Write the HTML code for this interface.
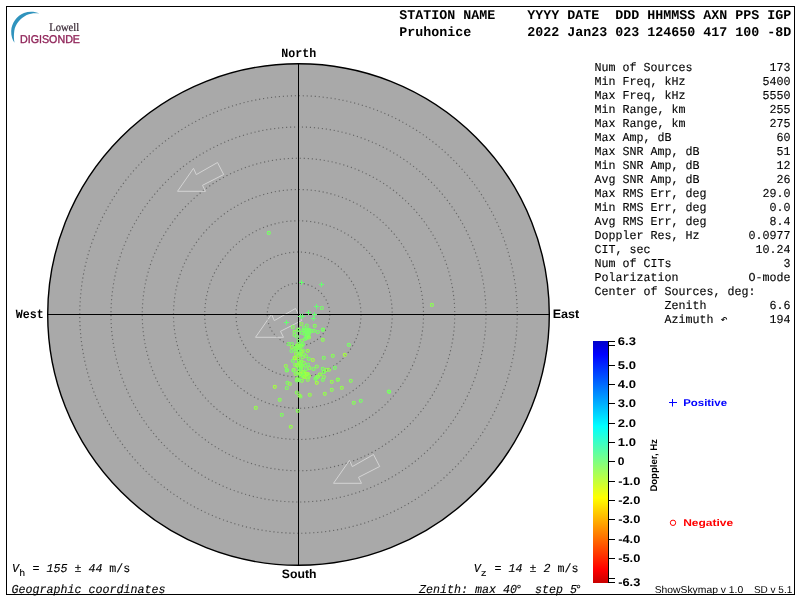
<!DOCTYPE html>
<html><head><meta charset="utf-8"><title>Skymap</title>
<style>
html,body{margin:0;padding:0;background:#fff;}
body{width:800px;height:600px;overflow:hidden;font-family:"Liberation Mono",monospace;}
svg{display:block;will-change:transform;}
text{white-space:pre;text-rendering:geometricPrecision;}
</style></head><body>
<svg width="800" height="600" viewBox="0 0 800 600">
<defs><linearGradient id="jet" x1="0" y1="0" x2="0" y2="1">
<stop offset="0" stop-color="#0000c8"/><stop offset="0.055" stop-color="#0000ff"/>
<stop offset="0.352" stop-color="#00ffff"/><stop offset="0.5" stop-color="#80ff80"/><stop offset="0.648" stop-color="#ffff00"/>
<stop offset="0.944" stop-color="#ff0000"/><stop offset="1" stop-color="#c80000"/>
</linearGradient></defs>
<rect x="6.5" y="6.5" width="788" height="588" fill="none" stroke="#000" stroke-width="1"/>
<circle cx="298.5" cy="314.5" r="250.8" fill="#a9a9a9" stroke="#000" stroke-width="1.4"/>
<circle cx="298.5" cy="314.5" r="31.25" fill="none" stroke="#666" stroke-width="1.15" stroke-dasharray="1.15 2.857"/>
<circle cx="298.5" cy="314.5" r="62.50" fill="none" stroke="#666" stroke-width="1.15" stroke-dasharray="1.15 2.857"/>
<circle cx="298.5" cy="314.5" r="93.75" fill="none" stroke="#666" stroke-width="1.15" stroke-dasharray="1.15 2.857"/>
<circle cx="298.5" cy="314.5" r="125.00" fill="none" stroke="#666" stroke-width="1.15" stroke-dasharray="1.15 2.857"/>
<circle cx="298.5" cy="314.5" r="156.25" fill="none" stroke="#666" stroke-width="1.15" stroke-dasharray="1.15 2.857"/>
<circle cx="298.5" cy="314.5" r="187.50" fill="none" stroke="#666" stroke-width="1.15" stroke-dasharray="1.15 2.844"/>
<circle cx="298.5" cy="314.5" r="218.75" fill="none" stroke="#666" stroke-width="1.15" stroke-dasharray="1.15 2.845"/>
<polygon points="177.5,191.3 193.5,168.3 196.3,174.6 217.5,162.5 223.7,174.5 202.5,185.3 205.5,191.3" fill="none" stroke="#d4d4d4" stroke-width="1"/>
<polygon points="255.5,337.3 271.5,314.3 274.3,320.6 295.5,308.5 301.7,320.5 280.5,331.3 283.5,337.3" fill="none" stroke="#d4d4d4" stroke-width="1"/>
<polygon points="333.5,483.3 349.5,460.3 352.3,466.6 373.5,454.5 379.7,466.5 358.5,477.3 361.5,483.3" fill="none" stroke="#d4d4d4" stroke-width="1"/>
<rect x="298" y="64" width="1" height="501" fill="#000"/>
<rect x="48" y="314" width="501" height="1" fill="#000"/>
<path d="M305 328.5 Q308 326.5 311 328.5 Q312.5 331 311 334 Q310 337 308 339.5 Q306 340.5 305 338 Q303.5 333 305 328.5Z" fill="#7cfc68"/>
<circle cx="321.8" cy="308.0" r="1.5" fill="none" stroke="#78ff66" stroke-width="1.15"/>
<circle cx="301.5" cy="324.0" r="1.5" fill="none" stroke="#8cff55" stroke-width="1.15"/>
<circle cx="292.8" cy="327.0" r="1.5" fill="none" stroke="#84ff5a" stroke-width="1.15"/>
<circle cx="306.8" cy="325.5" r="1.5" fill="none" stroke="#7cfc64" stroke-width="1.15"/>
<circle cx="314.8" cy="325.8" r="1.5" fill="none" stroke="#84ff5a" stroke-width="1.15"/>
<circle cx="323.0" cy="329.5" r="1.5" fill="none" stroke="#7cfc64" stroke-width="1.15"/>
<circle cx="298.5" cy="329.5" r="1.5" fill="none" stroke="#8cff55" stroke-width="1.15"/>
<circle cx="298.5" cy="330.0" r="1.5" fill="none" stroke="#78ff66" stroke-width="1.15"/>
<circle cx="294.5" cy="331.8" r="1.5" fill="none" stroke="#84ff5a" stroke-width="1.15"/>
<circle cx="294.5" cy="335.0" r="1.5" fill="none" stroke="#80ff5e" stroke-width="1.15"/>
<circle cx="297.0" cy="336.5" r="1.5" fill="none" stroke="#78ff66" stroke-width="1.15"/>
<circle cx="301.8" cy="332.8" r="1.5" fill="none" stroke="#78ff66" stroke-width="1.15"/>
<circle cx="303.5" cy="330.0" r="1.5" fill="none" stroke="#78ff66" stroke-width="1.15"/>
<circle cx="314.0" cy="330.8" r="1.5" fill="none" stroke="#7cfc64" stroke-width="1.15"/>
<circle cx="317.8" cy="332.0" r="1.5" fill="none" stroke="#78ff66" stroke-width="1.15"/>
<circle cx="322.8" cy="329.8" r="1.5" fill="none" stroke="#78ff66" stroke-width="1.15"/>
<circle cx="322.8" cy="339.8" r="1.5" fill="none" stroke="#8cff55" stroke-width="1.15"/>
<circle cx="308.5" cy="336.5" r="1.5" fill="none" stroke="#78ff66" stroke-width="1.15"/>
<circle cx="305.0" cy="339.0" r="1.5" fill="none" stroke="#78ff66" stroke-width="1.15"/>
<circle cx="302.0" cy="340.5" r="1.5" fill="none" stroke="#84ff5a" stroke-width="1.15"/>
<circle cx="298.5" cy="341.0" r="1.5" fill="none" stroke="#78ff66" stroke-width="1.15"/>
<circle cx="288.5" cy="344.0" r="1.5" fill="none" stroke="#7cfc64" stroke-width="1.15"/>
<circle cx="292.0" cy="344.0" r="1.5" fill="none" stroke="#78ff66" stroke-width="1.15"/>
<circle cx="291.8" cy="347.0" r="1.5" fill="none" stroke="#94ff4c" stroke-width="1.15"/>
<circle cx="291.5" cy="351.0" r="1.5" fill="none" stroke="#78ff66" stroke-width="1.15"/>
<circle cx="297.5" cy="346.0" r="1.5" fill="none" stroke="#7dff60" stroke-width="1.15"/>
<circle cx="301.0" cy="344.5" r="1.5" fill="none" stroke="#78ff66" stroke-width="1.15"/>
<circle cx="303.0" cy="344.0" r="1.5" fill="none" stroke="#78ff66" stroke-width="1.15"/>
<circle cx="300.0" cy="347.5" r="1.5" fill="none" stroke="#94ff4c" stroke-width="1.15"/>
<circle cx="295.5" cy="351.0" r="1.5" fill="none" stroke="#7dff60" stroke-width="1.15"/>
<circle cx="299.0" cy="351.0" r="1.5" fill="none" stroke="#86ff58" stroke-width="1.15"/>
<circle cx="303.0" cy="350.5" r="1.5" fill="none" stroke="#7dff60" stroke-width="1.15"/>
<circle cx="307.8" cy="350.8" r="1.5" fill="none" stroke="#94ff4c" stroke-width="1.15"/>
<circle cx="296.0" cy="354.0" r="1.5" fill="none" stroke="#94ff4c" stroke-width="1.15"/>
<circle cx="300.0" cy="354.0" r="1.5" fill="none" stroke="#86ff58" stroke-width="1.15"/>
<circle cx="304.0" cy="354.5" r="1.5" fill="none" stroke="#86ff58" stroke-width="1.15"/>
<circle cx="306.0" cy="356.0" r="1.5" fill="none" stroke="#86ff58" stroke-width="1.15"/>
<circle cx="294.5" cy="357.8" r="1.5" fill="none" stroke="#86ff58" stroke-width="1.15"/>
<circle cx="297.5" cy="358.5" r="1.5" fill="none" stroke="#a4ff40" stroke-width="1.15"/>
<circle cx="308.8" cy="358.8" r="1.5" fill="none" stroke="#7dff60" stroke-width="1.15"/>
<circle cx="312.8" cy="360.0" r="1.5" fill="none" stroke="#a4ff40" stroke-width="1.15"/>
<circle cx="292.8" cy="360.8" r="1.5" fill="none" stroke="#78ff66" stroke-width="1.15"/>
<circle cx="299.0" cy="361.0" r="1.5" fill="none" stroke="#78ff66" stroke-width="1.15"/>
<circle cx="301.0" cy="362.5" r="1.5" fill="none" stroke="#7dff60" stroke-width="1.15"/>
<circle cx="304.0" cy="363.0" r="1.5" fill="none" stroke="#8cff55" stroke-width="1.15"/>
<circle cx="323.8" cy="357.8" r="1.5" fill="none" stroke="#7dff60" stroke-width="1.15"/>
<circle cx="332.8" cy="355.8" r="1.5" fill="none" stroke="#86ff58" stroke-width="1.15"/>
<circle cx="344.8" cy="354.8" r="1.5" fill="none" stroke="#a4ff40" stroke-width="1.15"/>
<circle cx="348.8" cy="344.8" r="1.5" fill="none" stroke="#78ff66" stroke-width="1.15"/>
<circle cx="285.8" cy="366.0" r="1.5" fill="none" stroke="#94ff4c" stroke-width="1.15"/>
<circle cx="286.8" cy="369.7" r="1.5" fill="none" stroke="#78ff66" stroke-width="1.15"/>
<circle cx="293.8" cy="369.7" r="1.5" fill="none" stroke="#a4ff40" stroke-width="1.15"/>
<circle cx="298.0" cy="366.0" r="1.5" fill="none" stroke="#86ff58" stroke-width="1.15"/>
<circle cx="302.0" cy="366.0" r="1.5" fill="none" stroke="#78ff66" stroke-width="1.15"/>
<circle cx="305.5" cy="365.5" r="1.5" fill="none" stroke="#86ff58" stroke-width="1.15"/>
<circle cx="308.0" cy="364.5" r="1.5" fill="none" stroke="#78ff66" stroke-width="1.15"/>
<circle cx="309.5" cy="368.0" r="1.5" fill="none" stroke="#8cff55" stroke-width="1.15"/>
<circle cx="306.0" cy="369.0" r="1.5" fill="none" stroke="#7dff60" stroke-width="1.15"/>
<circle cx="301.0" cy="369.0" r="1.5" fill="none" stroke="#8cff55" stroke-width="1.15"/>
<circle cx="313.5" cy="369.0" r="1.5" fill="none" stroke="#7dff60" stroke-width="1.15"/>
<circle cx="316.8" cy="366.5" r="1.5" fill="none" stroke="#86ff58" stroke-width="1.15"/>
<circle cx="322.8" cy="368.8" r="1.5" fill="none" stroke="#7dff60" stroke-width="1.15"/>
<circle cx="326.5" cy="369.7" r="1.5" fill="none" stroke="#94ff4c" stroke-width="1.15"/>
<circle cx="329.0" cy="369.7" r="1.5" fill="none" stroke="#94ff4c" stroke-width="1.15"/>
<circle cx="334.8" cy="367.8" r="1.5" fill="none" stroke="#78ff66" stroke-width="1.15"/>
<circle cx="323.8" cy="372.0" r="1.5" fill="none" stroke="#94ff4c" stroke-width="1.15"/>
<circle cx="319.8" cy="374.5" r="1.5" fill="none" stroke="#86ff58" stroke-width="1.15"/>
<circle cx="316.8" cy="377.0" r="1.5" fill="none" stroke="#86ff58" stroke-width="1.15"/>
<circle cx="323.8" cy="377.0" r="1.5" fill="none" stroke="#8cff55" stroke-width="1.15"/>
<circle cx="315.5" cy="378.5" r="1.5" fill="none" stroke="#78ff66" stroke-width="1.15"/>
<circle cx="308.0" cy="374.5" r="1.5" fill="none" stroke="#7dff60" stroke-width="1.15"/>
<circle cx="304.0" cy="373.5" r="1.5" fill="none" stroke="#8cff55" stroke-width="1.15"/>
<circle cx="302.0" cy="374.0" r="1.5" fill="none" stroke="#94ff4c" stroke-width="1.15"/>
<circle cx="295.5" cy="374.0" r="1.5" fill="none" stroke="#94ff4c" stroke-width="1.15"/>
<circle cx="298.5" cy="372.0" r="1.5" fill="none" stroke="#a4ff40" stroke-width="1.15"/>
<circle cx="308.0" cy="377.5" r="1.5" fill="none" stroke="#8cff55" stroke-width="1.15"/>
<circle cx="297.0" cy="379.0" r="1.5" fill="none" stroke="#8cff55" stroke-width="1.15"/>
<circle cx="338.0" cy="379.5" r="1.5" fill="none" stroke="#8cff55" stroke-width="1.15"/>
<circle cx="286.8" cy="370.5" r="1.5" fill="none" stroke="#7dff60" stroke-width="1.15"/>
<circle cx="293.5" cy="370.5" r="1.5" fill="none" stroke="#78ff66" stroke-width="1.15"/>
<circle cx="303.5" cy="373.5" r="1.5" fill="none" stroke="#78ff66" stroke-width="1.15"/>
<circle cx="304.0" cy="376.0" r="1.5" fill="none" stroke="#94ff4c" stroke-width="1.15"/>
<circle cx="309.0" cy="376.0" r="1.5" fill="none" stroke="#94ff4c" stroke-width="1.15"/>
<circle cx="307.8" cy="379.8" r="1.5" fill="none" stroke="#8cff55" stroke-width="1.15"/>
<circle cx="301.8" cy="380.8" r="1.5" fill="none" stroke="#8cff55" stroke-width="1.15"/>
<circle cx="296.8" cy="380.5" r="1.5" fill="none" stroke="#7dff60" stroke-width="1.15"/>
<circle cx="298.5" cy="379.5" r="1.5" fill="none" stroke="#8cff55" stroke-width="1.15"/>
<circle cx="315.8" cy="378.8" r="1.5" fill="none" stroke="#78ff66" stroke-width="1.15"/>
<circle cx="318.0" cy="376.8" r="1.5" fill="none" stroke="#86ff58" stroke-width="1.15"/>
<circle cx="320.0" cy="374.5" r="1.5" fill="none" stroke="#94ff4c" stroke-width="1.15"/>
<circle cx="323.8" cy="371.8" r="1.5" fill="none" stroke="#7dff60" stroke-width="1.15"/>
<circle cx="322.8" cy="379.8" r="1.5" fill="none" stroke="#7dff60" stroke-width="1.15"/>
<circle cx="316.8" cy="382.8" r="1.5" fill="none" stroke="#a4ff40" stroke-width="1.15"/>
<circle cx="287.5" cy="382.8" r="1.5" fill="none" stroke="#7dff60" stroke-width="1.15"/>
<circle cx="289.8" cy="384.0" r="1.5" fill="none" stroke="#94ff4c" stroke-width="1.15"/>
<circle cx="286.8" cy="388.0" r="1.5" fill="none" stroke="#7dff60" stroke-width="1.15"/>
<circle cx="274.8" cy="386.8" r="1.5" fill="none" stroke="#a4ff40" stroke-width="1.15"/>
<circle cx="296.8" cy="392.5" r="1.5" fill="none" stroke="#86ff58" stroke-width="1.15"/>
<circle cx="300.5" cy="396.5" r="1.5" fill="none" stroke="#7dff60" stroke-width="1.15"/>
<circle cx="299.5" cy="395.5" r="1.5" fill="none" stroke="#94ff4c" stroke-width="1.15"/>
<circle cx="309.8" cy="394.8" r="1.5" fill="none" stroke="#94ff4c" stroke-width="1.15"/>
<circle cx="324.8" cy="393.8" r="1.5" fill="none" stroke="#94ff4c" stroke-width="1.15"/>
<circle cx="279.8" cy="399.8" r="1.5" fill="none" stroke="#86ff58" stroke-width="1.15"/>
<circle cx="255.8" cy="407.8" r="1.5" fill="none" stroke="#94ff4c" stroke-width="1.15"/>
<circle cx="297.8" cy="410.8" r="1.5" fill="none" stroke="#86ff58" stroke-width="1.15"/>
<circle cx="281.8" cy="414.8" r="1.5" fill="none" stroke="#7dff60" stroke-width="1.15"/>
<circle cx="290.8" cy="426.8" r="1.5" fill="none" stroke="#94ff4c" stroke-width="1.15"/>
<circle cx="331.8" cy="381.8" r="1.5" fill="none" stroke="#94ff4c" stroke-width="1.15"/>
<circle cx="337.8" cy="379.8" r="1.5" fill="none" stroke="#86ff58" stroke-width="1.15"/>
<circle cx="350.8" cy="380.8" r="1.5" fill="none" stroke="#86ff58" stroke-width="1.15"/>
<circle cx="341.8" cy="387.8" r="1.5" fill="none" stroke="#94ff4c" stroke-width="1.15"/>
<circle cx="331.8" cy="389.8" r="1.5" fill="none" stroke="#8cff55" stroke-width="1.15"/>
<circle cx="388.8" cy="391.5" r="1.5" fill="none" stroke="#7dff60" stroke-width="1.15"/>
<circle cx="389.2" cy="391.8" r="1.5" fill="none" stroke="#78ff66" stroke-width="1.15"/>
<circle cx="360.8" cy="400.8" r="1.5" fill="none" stroke="#78ff66" stroke-width="1.15"/>
<circle cx="353.8" cy="402.8" r="1.5" fill="none" stroke="#86ff58" stroke-width="1.15"/>
<circle cx="268.8" cy="232.9" r="1.5" fill="none" stroke="#78ff66" stroke-width="1.15"/>
<circle cx="431.9" cy="304.9" r="1.5" fill="none" stroke="#8cff55" stroke-width="1.15"/>
<circle cx="298.8" cy="367.7" r="1.5" fill="none" stroke="#78ff66" stroke-width="1.15"/>
<circle cx="300.8" cy="345.8" r="1.5" fill="none" stroke="#a4ff40" stroke-width="1.15"/>
<circle cx="297.1" cy="345.2" r="1.5" fill="none" stroke="#8cff55" stroke-width="1.15"/>
<circle cx="298.9" cy="362.3" r="1.5" fill="none" stroke="#7dff60" stroke-width="1.15"/>
<circle cx="302.2" cy="345.7" r="1.5" fill="none" stroke="#78ff66" stroke-width="1.15"/>
<circle cx="300.1" cy="346.4" r="1.5" fill="none" stroke="#78ff66" stroke-width="1.15"/>
<circle cx="295.2" cy="347.7" r="1.5" fill="none" stroke="#78ff66" stroke-width="1.15"/>
<circle cx="301.7" cy="351.5" r="1.5" fill="none" stroke="#a4ff40" stroke-width="1.15"/>
<circle cx="295.1" cy="364.9" r="1.5" fill="none" stroke="#86ff58" stroke-width="1.15"/>
<circle cx="295.0" cy="358.1" r="1.5" fill="none" stroke="#a4ff40" stroke-width="1.15"/>
<circle cx="300.3" cy="375.6" r="1.5" fill="none" stroke="#7dff60" stroke-width="1.15"/>
<circle cx="299.4" cy="354.0" r="1.5" fill="none" stroke="#a4ff40" stroke-width="1.15"/>
<circle cx="300.3" cy="354.7" r="1.5" fill="none" stroke="#86ff58" stroke-width="1.15"/>
<circle cx="300.5" cy="374.0" r="1.5" fill="none" stroke="#a4ff40" stroke-width="1.15"/>
<circle cx="300.9" cy="367.3" r="1.5" fill="none" stroke="#8cff55" stroke-width="1.15"/>
<circle cx="302.6" cy="357.2" r="1.5" fill="none" stroke="#8cff55" stroke-width="1.15"/>
<circle cx="298.6" cy="345.3" r="1.5" fill="none" stroke="#8cff55" stroke-width="1.15"/>
<circle cx="299.2" cy="350.8" r="1.5" fill="none" stroke="#78ff66" stroke-width="1.15"/>
<circle cx="298.3" cy="354.9" r="1.5" fill="none" stroke="#86ff58" stroke-width="1.15"/>
<circle cx="297.0" cy="365.3" r="1.5" fill="none" stroke="#94ff4c" stroke-width="1.15"/>
<circle cx="297.4" cy="373.2" r="1.5" fill="none" stroke="#7dff60" stroke-width="1.15"/>
<circle cx="300.1" cy="369.6" r="1.5" fill="none" stroke="#78ff66" stroke-width="1.15"/>
<circle cx="299.6" cy="363.0" r="1.5" fill="none" stroke="#94ff4c" stroke-width="1.15"/>
<circle cx="302.9" cy="376.3" r="1.5" fill="none" stroke="#8cff55" stroke-width="1.15"/>
<circle cx="299.2" cy="380.2" r="1.5" fill="none" stroke="#78ff66" stroke-width="1.15"/>
<circle cx="297.4" cy="347.5" r="1.5" fill="none" stroke="#86ff58" stroke-width="1.15"/>
<circle cx="295.7" cy="348.8" r="1.5" fill="none" stroke="#86ff58" stroke-width="1.15"/>
<circle cx="301.7" cy="361.6" r="1.5" fill="none" stroke="#8cff55" stroke-width="1.15"/>
<circle cx="303.2" cy="372.1" r="1.5" fill="none" stroke="#a4ff40" stroke-width="1.15"/>
<circle cx="300.4" cy="364.8" r="1.5" fill="none" stroke="#94ff4c" stroke-width="1.15"/>
<circle cx="307.8" cy="373.7" r="1.5" fill="none" stroke="#8cff55" stroke-width="1.15"/>
<circle cx="304.2" cy="372.3" r="1.5" fill="none" stroke="#86ff58" stroke-width="1.15"/>
<circle cx="303.1" cy="375.8" r="1.5" fill="none" stroke="#7dff60" stroke-width="1.15"/>
<circle cx="304.4" cy="377.2" r="1.5" fill="none" stroke="#a4ff40" stroke-width="1.15"/>
<circle cx="301.6" cy="364.8" r="1.5" fill="none" stroke="#7dff60" stroke-width="1.15"/>
<circle cx="306.7" cy="373.8" r="1.5" fill="none" stroke="#a4ff40" stroke-width="1.15"/>
<circle cx="304.5" cy="330.5" r="1.5" fill="none" stroke="#78ff66" stroke-width="1.15"/>
<circle cx="304.5" cy="334.0" r="1.5" fill="none" stroke="#78ff66" stroke-width="1.15"/>
<circle cx="311.5" cy="331.0" r="1.5" fill="none" stroke="#78ff66" stroke-width="1.15"/>
<circle cx="306.0" cy="338.0" r="1.5" fill="none" stroke="#78ff66" stroke-width="1.15"/>
<circle cx="309.0" cy="337.5" r="1.5" fill="none" stroke="#8cff55" stroke-width="1.15"/>
<circle cx="304.0" cy="328.0" r="1.5" fill="none" stroke="#78ff66" stroke-width="1.15"/>
<path d="M299.0 282.5h5M301.5 280.0v5" stroke="#66ff70" stroke-width="1" fill="none"/>
<path d="M319.0 284.5h5M321.5 282.0v5" stroke="#66ff70" stroke-width="1" fill="none"/>
<path d="M314.0 306.5h5M316.5 304.0v5" stroke="#66ff70" stroke-width="1" fill="none"/>
<path d="M306.0 312.5h5M308.5 310.0v5" stroke="#66ff70" stroke-width="1" fill="none"/>
<path d="M312.0 314.5h5M314.5 312.0v5" stroke="#66ff70" stroke-width="1" fill="none"/>
<path d="M311.0 318.5h5M313.5 316.0v5" stroke="#66ff70" stroke-width="1" fill="none"/>
<path d="M300.0 316.5h5M302.5 314.0v5" stroke="#66ff70" stroke-width="1" fill="none"/>
<path d="M298.0 316.5h5M300.5 314.0v5" stroke="#66ff70" stroke-width="1" fill="none"/>
<path d="M284.0 322.5h5M286.5 320.0v5" stroke="#66ff70" stroke-width="1" fill="none"/>
<path d="M39.3 13.5 C35 11.5 29 11.2 24 13 C17 15.8 11.5 23 11.2 31 C11 36 12.5 40 14.5 42.7 C13.8 39 13.7 35 14.3 30.7 C15.5 24 20 18.5 26.7 15 C31 13 35.5 12.8 39.3 13.5Z" fill="#2f93bd"/>
<text x="49.20" y="31" fill="#33222f" style="font-family:&quot;Liberation Serif&quot;,serif;font-size:11.5px;" textLength="29.99" lengthAdjust="spacingAndGlyphs" stroke="#33222f" stroke-width="0.2" xml:space="preserve">Lowell</text>
<text x="20.00" y="43.3" fill="#8f2358" style="font-family:&quot;Liberation Sans&quot;,sans-serif;font-size:11.3px;" textLength="60.00" lengthAdjust="spacingAndGlyphs" stroke="#8f2358" stroke-width="0.35" xml:space="preserve">DIGISONDE</text>
<text x="399.30" y="19" fill="#000" style="font-family:&quot;Liberation Mono&quot;,monospace;font-size:13.33px;font-weight:bold;" textLength="392.00" lengthAdjust="spacingAndGlyphs" xml:space="preserve">STATION NAME    YYYY DATE  DDD HHMMSS AXN PPS IGP</text>
<text x="399.30" y="36" fill="#000" style="font-family:&quot;Liberation Mono&quot;,monospace;font-size:13.33px;font-weight:bold;" textLength="392.00" lengthAdjust="spacingAndGlyphs" xml:space="preserve">Pruhonice       2022 Jan23 023 124650 417 100 -8D</text>
<text x="281.30" y="56.8" fill="#000" style="font-family:&quot;Liberation Mono&quot;,monospace;font-size:12.6px;font-weight:bold;" textLength="35.00" lengthAdjust="spacingAndGlyphs" xml:space="preserve">North</text>
<text x="15.70" y="317.8" fill="#000" style="font-family:&quot;Liberation Mono&quot;,monospace;font-size:12.6px;font-weight:bold;" textLength="28.00" lengthAdjust="spacingAndGlyphs" xml:space="preserve">West</text>
<text x="281.80" y="577.7" fill="#000" style="font-family:&quot;Liberation Sans&quot;,sans-serif;font-size:12.3px;font-weight:bold;" textLength="34.69" lengthAdjust="spacingAndGlyphs" xml:space="preserve">South</text>
<text x="552.70" y="317.8" fill="#000" style="font-family:&quot;Liberation Sans&quot;,sans-serif;font-size:12.3px;font-weight:bold;" textLength="26.50" lengthAdjust="spacingAndGlyphs" xml:space="preserve">East</text>
<text x="594.60" y="71.2" fill="#000" style="font-family:&quot;Liberation Mono&quot;,monospace;font-size:12.1px;" textLength="196.00" lengthAdjust="spacingAndGlyphs" stroke="#000" stroke-width="0.12" xml:space="preserve">Num of Sources           173</text>
<text x="594.60" y="85.2" fill="#000" style="font-family:&quot;Liberation Mono&quot;,monospace;font-size:12.1px;" textLength="196.00" lengthAdjust="spacingAndGlyphs" stroke="#000" stroke-width="0.12" xml:space="preserve">Min Freq, kHz           5400</text>
<text x="594.60" y="99.2" fill="#000" style="font-family:&quot;Liberation Mono&quot;,monospace;font-size:12.1px;" textLength="196.00" lengthAdjust="spacingAndGlyphs" stroke="#000" stroke-width="0.12" xml:space="preserve">Max Freq, kHz           5550</text>
<text x="594.60" y="113.2" fill="#000" style="font-family:&quot;Liberation Mono&quot;,monospace;font-size:12.1px;" textLength="196.00" lengthAdjust="spacingAndGlyphs" stroke="#000" stroke-width="0.12" xml:space="preserve">Min Range, km            255</text>
<text x="594.60" y="127.2" fill="#000" style="font-family:&quot;Liberation Mono&quot;,monospace;font-size:12.1px;" textLength="196.00" lengthAdjust="spacingAndGlyphs" stroke="#000" stroke-width="0.12" xml:space="preserve">Max Range, km            275</text>
<text x="594.60" y="141.2" fill="#000" style="font-family:&quot;Liberation Mono&quot;,monospace;font-size:12.1px;" textLength="196.00" lengthAdjust="spacingAndGlyphs" stroke="#000" stroke-width="0.12" xml:space="preserve">Max Amp, dB               60</text>
<text x="594.60" y="155.2" fill="#000" style="font-family:&quot;Liberation Mono&quot;,monospace;font-size:12.1px;" textLength="196.00" lengthAdjust="spacingAndGlyphs" stroke="#000" stroke-width="0.12" xml:space="preserve">Max SNR Amp, dB           51</text>
<text x="594.60" y="169.2" fill="#000" style="font-family:&quot;Liberation Mono&quot;,monospace;font-size:12.1px;" textLength="196.00" lengthAdjust="spacingAndGlyphs" stroke="#000" stroke-width="0.12" xml:space="preserve">Min SNR Amp, dB           12</text>
<text x="594.60" y="183.2" fill="#000" style="font-family:&quot;Liberation Mono&quot;,monospace;font-size:12.1px;" textLength="196.00" lengthAdjust="spacingAndGlyphs" stroke="#000" stroke-width="0.12" xml:space="preserve">Avg SNR Amp, dB           26</text>
<text x="594.60" y="197.2" fill="#000" style="font-family:&quot;Liberation Mono&quot;,monospace;font-size:12.1px;" textLength="196.00" lengthAdjust="spacingAndGlyphs" stroke="#000" stroke-width="0.12" xml:space="preserve">Max RMS Err, deg        29.0</text>
<text x="594.60" y="211.2" fill="#000" style="font-family:&quot;Liberation Mono&quot;,monospace;font-size:12.1px;" textLength="196.00" lengthAdjust="spacingAndGlyphs" stroke="#000" stroke-width="0.12" xml:space="preserve">Min RMS Err, deg         0.0</text>
<text x="594.60" y="225.2" fill="#000" style="font-family:&quot;Liberation Mono&quot;,monospace;font-size:12.1px;" textLength="196.00" lengthAdjust="spacingAndGlyphs" stroke="#000" stroke-width="0.12" xml:space="preserve">Avg RMS Err, deg         8.4</text>
<text x="594.60" y="239.2" fill="#000" style="font-family:&quot;Liberation Mono&quot;,monospace;font-size:12.1px;" textLength="196.00" lengthAdjust="spacingAndGlyphs" stroke="#000" stroke-width="0.12" xml:space="preserve">Doppler Res, Hz       0.0977</text>
<text x="594.60" y="253.2" fill="#000" style="font-family:&quot;Liberation Mono&quot;,monospace;font-size:12.1px;" textLength="196.00" lengthAdjust="spacingAndGlyphs" stroke="#000" stroke-width="0.12" xml:space="preserve">CIT, sec               10.24</text>
<text x="594.60" y="267.2" fill="#000" style="font-family:&quot;Liberation Mono&quot;,monospace;font-size:12.1px;" textLength="196.00" lengthAdjust="spacingAndGlyphs" stroke="#000" stroke-width="0.12" xml:space="preserve">Num of CITs                3</text>
<text x="594.60" y="281.2" fill="#000" style="font-family:&quot;Liberation Mono&quot;,monospace;font-size:12.1px;" textLength="196.00" lengthAdjust="spacingAndGlyphs" stroke="#000" stroke-width="0.12" xml:space="preserve">Polarization          O-mode</text>
<text x="594.60" y="295.2" fill="#000" style="font-family:&quot;Liberation Mono&quot;,monospace;font-size:12.1px;" textLength="196.00" lengthAdjust="spacingAndGlyphs" stroke="#000" stroke-width="0.12" xml:space="preserve">Center of Sources, deg:     </text>
<text x="594.60" y="309.2" fill="#000" style="font-family:&quot;Liberation Mono&quot;,monospace;font-size:12.1px;" textLength="196.00" lengthAdjust="spacingAndGlyphs" stroke="#000" stroke-width="0.12" xml:space="preserve">          Zenith         6.6</text>
<text x="594.60" y="323.2" fill="#000" style="font-family:&quot;Liberation Mono&quot;,monospace;font-size:12.1px;" textLength="196.00" lengthAdjust="spacingAndGlyphs" stroke="#000" stroke-width="0.12" xml:space="preserve">          Azimuth ↶      194</text>
<rect x="593" y="341" width="15" height="242" fill="url(#jet)"/>
<rect x="608" y="341" width="1" height="242" fill="#000"/>
<rect x="608" y="341" width="7" height="1" fill="#000"/>
<text x="617.80" y="345.3" fill="#000" style="font-family:&quot;Liberation Sans&quot;,sans-serif;font-size:11.2px;font-weight:bold;" textLength="18.14" lengthAdjust="spacingAndGlyphs" xml:space="preserve">6.3</text>
<rect x="608" y="345" width="7" height="1" fill="#000"/>
<rect x="608" y="365" width="7" height="1" fill="#000"/>
<text x="617.80" y="369.3" fill="#000" style="font-family:&quot;Liberation Sans&quot;,sans-serif;font-size:11.2px;font-weight:bold;" textLength="18.14" lengthAdjust="spacingAndGlyphs" xml:space="preserve">5.0</text>
<rect x="608" y="384" width="7" height="1" fill="#000"/>
<text x="617.80" y="388.3" fill="#000" style="font-family:&quot;Liberation Sans&quot;,sans-serif;font-size:11.2px;font-weight:bold;" textLength="18.14" lengthAdjust="spacingAndGlyphs" xml:space="preserve">4.0</text>
<rect x="608" y="403" width="7" height="1" fill="#000"/>
<text x="617.80" y="407.3" fill="#000" style="font-family:&quot;Liberation Sans&quot;,sans-serif;font-size:11.2px;font-weight:bold;" textLength="18.14" lengthAdjust="spacingAndGlyphs" xml:space="preserve">3.0</text>
<rect x="608" y="423" width="7" height="1" fill="#000"/>
<text x="617.80" y="427.3" fill="#000" style="font-family:&quot;Liberation Sans&quot;,sans-serif;font-size:11.2px;font-weight:bold;" textLength="18.14" lengthAdjust="spacingAndGlyphs" xml:space="preserve">2.0</text>
<rect x="608" y="442" width="7" height="1" fill="#000"/>
<text x="617.80" y="446.3" fill="#000" style="font-family:&quot;Liberation Sans&quot;,sans-serif;font-size:11.2px;font-weight:bold;" textLength="18.14" lengthAdjust="spacingAndGlyphs" xml:space="preserve">1.0</text>
<rect x="608" y="461" width="7" height="1" fill="#000"/>
<text x="617.80" y="465.3" fill="#000" style="font-family:&quot;Liberation Sans&quot;,sans-serif;font-size:11.2px;font-weight:bold;" textLength="6.70" lengthAdjust="spacingAndGlyphs" xml:space="preserve">0</text>
<rect x="608" y="481" width="7" height="1" fill="#000"/>
<text x="618.20" y="485.3" fill="#000" style="font-family:&quot;Liberation Sans&quot;,sans-serif;font-size:11.2px;font-weight:bold;" textLength="22.14" lengthAdjust="spacingAndGlyphs" xml:space="preserve">-1.0</text>
<rect x="608" y="500" width="7" height="1" fill="#000"/>
<text x="618.20" y="504.3" fill="#000" style="font-family:&quot;Liberation Sans&quot;,sans-serif;font-size:11.2px;font-weight:bold;" textLength="22.14" lengthAdjust="spacingAndGlyphs" xml:space="preserve">-2.0</text>
<rect x="608" y="519" width="7" height="1" fill="#000"/>
<text x="618.20" y="523.3" fill="#000" style="font-family:&quot;Liberation Sans&quot;,sans-serif;font-size:11.2px;font-weight:bold;" textLength="22.14" lengthAdjust="spacingAndGlyphs" xml:space="preserve">-3.0</text>
<rect x="608" y="539" width="7" height="1" fill="#000"/>
<text x="618.20" y="543.3" fill="#000" style="font-family:&quot;Liberation Sans&quot;,sans-serif;font-size:11.2px;font-weight:bold;" textLength="22.14" lengthAdjust="spacingAndGlyphs" xml:space="preserve">-4.0</text>
<rect x="608" y="558" width="7" height="1" fill="#000"/>
<text x="618.20" y="562.3" fill="#000" style="font-family:&quot;Liberation Sans&quot;,sans-serif;font-size:11.2px;font-weight:bold;" textLength="22.14" lengthAdjust="spacingAndGlyphs" xml:space="preserve">-5.0</text>
<rect x="608" y="578" width="7" height="1" fill="#000"/>
<rect x="608" y="582" width="7" height="1" fill="#000"/>
<text x="618.20" y="586.3" fill="#000" style="font-family:&quot;Liberation Sans&quot;,sans-serif;font-size:11.2px;font-weight:bold;" textLength="22.14" lengthAdjust="spacingAndGlyphs" xml:space="preserve">-6.3</text>
<path d="M669 402.5h8M672.5 399v7.5" stroke="#0000ff" stroke-width="1" fill="none"/>
<text x="683.20" y="405.8" fill="#0000ff" style="font-family:&quot;Liberation Sans&quot;,sans-serif;font-size:9.8px;font-weight:bold;" textLength="43.80" lengthAdjust="spacingAndGlyphs" xml:space="preserve">Positive</text>
<circle cx="673" cy="522.8" r="2.7" fill="none" stroke="#ff0000" stroke-width="1"/>
<text x="683.20" y="525.8" fill="#ff0000" style="font-family:&quot;Liberation Sans&quot;,sans-serif;font-size:9.8px;font-weight:bold;" textLength="50.01" lengthAdjust="spacingAndGlyphs" xml:space="preserve">Negative</text>
<text transform="translate(657.3,491.60) rotate(-90)" x="0" y="0" style="font-family:&quot;Liberation Sans&quot;,sans-serif;font-size:9.7px;font-weight:bold;" textLength="52.50" lengthAdjust="spacingAndGlyphs">Doppler, Hz</text>
<text x="12.00" y="572" fill="#000" style="font-family:&quot;Liberation Mono&quot;,monospace;font-size:12.1px;font-style:italic;" textLength="7.00" lengthAdjust="spacingAndGlyphs" stroke="#000" stroke-width="0.12" xml:space="preserve">V</text>
<text x="19.30" y="575.5" fill="#000" style="font-family:&quot;Liberation Mono&quot;,monospace;font-size:9.6px;" textLength="6.00" lengthAdjust="spacingAndGlyphs" stroke="#000" stroke-width="0.12" xml:space="preserve">h</text>
<text x="25.50" y="572" fill="#000" style="font-family:&quot;Liberation Mono&quot;,monospace;font-size:12.1px;font-style:italic;" textLength="77.00" lengthAdjust="spacingAndGlyphs" stroke="#000" stroke-width="0.12" xml:space="preserve"> = 155 ± 44</text>
<text x="102.30" y="572" fill="#000" style="font-family:&quot;Liberation Mono&quot;,monospace;font-size:12.1px;" textLength="28.00" lengthAdjust="spacingAndGlyphs" stroke="#000" stroke-width="0.12" xml:space="preserve"> m/s</text>
<text x="11.60" y="592.5" fill="#000" style="font-family:&quot;Liberation Mono&quot;,monospace;font-size:12.1px;font-style:italic;" textLength="154.00" lengthAdjust="spacingAndGlyphs" stroke="#000" stroke-width="0.12" xml:space="preserve">Geographic coordinates</text>
<text x="473.70" y="572" fill="#000" style="font-family:&quot;Liberation Mono&quot;,monospace;font-size:12.1px;font-style:italic;" textLength="7.00" lengthAdjust="spacingAndGlyphs" stroke="#000" stroke-width="0.12" xml:space="preserve">V</text>
<text x="480.80" y="575.5" fill="#000" style="font-family:&quot;Liberation Mono&quot;,monospace;font-size:9.6px;" textLength="6.00" lengthAdjust="spacingAndGlyphs" stroke="#000" stroke-width="0.12" xml:space="preserve">z</text>
<text x="487.50" y="572" fill="#000" style="font-family:&quot;Liberation Mono&quot;,monospace;font-size:12.1px;font-style:italic;" textLength="63.00" lengthAdjust="spacingAndGlyphs" stroke="#000" stroke-width="0.12" xml:space="preserve"> = 14 ± 2</text>
<text x="550.50" y="572" fill="#000" style="font-family:&quot;Liberation Mono&quot;,monospace;font-size:12.1px;" textLength="28.00" lengthAdjust="spacingAndGlyphs" stroke="#000" stroke-width="0.12" xml:space="preserve"> m/s</text>
<text x="419.00" y="592.5" fill="#000" style="font-family:&quot;Liberation Mono&quot;,monospace;font-size:12.1px;font-style:italic;" textLength="98.00" lengthAdjust="spacingAndGlyphs" stroke="#000" stroke-width="0.12" xml:space="preserve">Zenith: max 40</text>
<text x="515.50" y="592.5" fill="#000" style="font-family:&quot;Liberation Mono&quot;,monospace;font-size:12.1px;font-style:italic;" textLength="7.00" lengthAdjust="spacingAndGlyphs" stroke="#000" stroke-width="0.12" xml:space="preserve">°</text>
<text x="535.00" y="592.5" fill="#000" style="font-family:&quot;Liberation Mono&quot;,monospace;font-size:12.1px;font-style:italic;" textLength="42.00" lengthAdjust="spacingAndGlyphs" stroke="#000" stroke-width="0.12" xml:space="preserve">step 5</text>
<text x="575.00" y="592.5" fill="#000" style="font-family:&quot;Liberation Mono&quot;,monospace;font-size:12.1px;font-style:italic;" textLength="7.00" lengthAdjust="spacingAndGlyphs" stroke="#000" stroke-width="0.12" xml:space="preserve">°</text>
<text x="654.70" y="592.8" fill="#000" style="font-family:&quot;Liberation Sans&quot;,sans-serif;font-size:10px;" textLength="88.50" lengthAdjust="spacingAndGlyphs" xml:space="preserve">ShowSkymap v 1.0</text>
<text x="753.90" y="592.8" fill="#000" style="font-family:&quot;Liberation Sans&quot;,sans-serif;font-size:10px;" xml:space="preserve">SD v 5.1</text>
</svg>
</body></html>
